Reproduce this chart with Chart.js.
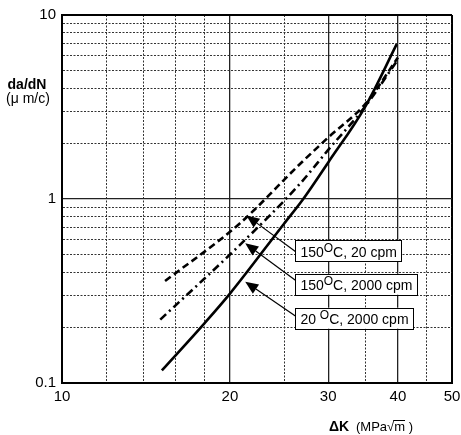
<!DOCTYPE html>
<html>
<head>
<meta charset="utf-8">
<script src="https://cdn.jsdelivr.net/npm/chart.js@4/dist/chart.umd.min.js"></script>
<style>
  html, body { margin: 0; padding: 0; background: #fff; }
  #wrap { width: 461px; height: 435px; }
</style>
</head>
<body>
<div id="wrap"><canvas id="c"></canvas></div>
<script>
const FONT = '"Liberation Sans", Arial, sans-serif';

// da/dN (um/cycle) against ΔK (MPa√m)
const k20c2000 = [15.1, 18, 20, 25, 27, 30, 35, 39.8];
const rate20c2000 = [0.117, 0.211, 0.306, 0.734, 0.99, 1.58, 3.2, 6.94];
const k150c20 = [15.3, 20.8, 26.7, 30, 35, 40];
const rate150c20 = [0.358, 0.734, 1.55, 2.16, 3.3, 5.87];
const k150c2000 = [15.0, 20.8, 26.7, 30, 35, 39.8];
const rate150c2000 = [0.221, 0.56, 1.21, 1.85, 3.2, 5.6];

// axis ticks / grid
const kMajor = [10, 20, 30, 40, 50];
const kMinor = [12, 14, 16, 18, 25, 35, 45];
const rateMajor = [0.1, 1, 10];
const rateMinor = [0.2, 0.3, 0.4, 0.5, 0.6, 0.7, 0.8, 0.9, 2, 3, 4, 5, 6, 7, 8, 9];

// callout labels: arrow tip on curve, label box anchored at left-middle
const calloutText = [['150', '°', 'C, 20 cpm'], ['150', '°', 'C, 2000 cpm'], ['20 ', '°', 'C, 2000 cpm']];
const tipK = [21.4, 21.3, 21.3];
const tipRate = [0.814, 0.574, 0.355];
const tailK = [26.2, 26.2, 26.2];
const tailRate = [0.519, 0.362, 0.231];
const boxRate = [0.524, 0.344, 0.225];

const pts = (xs, ys) => xs.map((x, i) => ({ x, y: ys[i] }));

function gridStyle(major, minor, lo, hi) {
  return {
    drawTicks: false,
    color: c => {
      const v = c.tick && c.tick.value;
      if (v === lo || v === hi) return '#000';
      return minor.includes(v) ? '#333' : '#222';
    },
    lineWidth: c => {
      const v = c.tick && c.tick.value;
      if (v === lo || v === hi) return 2;
      return minor.includes(v) ? 1 : 1.3;
    },
  };
}

const decor = {
  id: 'decor',
  afterDatasetsDraw(chart) {
    const { ctx, scales: { x, y } } = chart;
    ctx.save();
    for (let i = 0; i < calloutText.length; i++) {
      const tx = x.getPixelForValue(tipK[i]), ty = y.getPixelForValue(tipRate[i]);
      const sx = x.getPixelForValue(tailK[i]), sy = y.getPixelForValue(tailRate[i]);
      const ang = Math.atan2(ty - sy, tx - sx);
      const hl = 13, hw = 5.5;
      const bx = tx - hl * Math.cos(ang), by = ty - hl * Math.sin(ang);
      ctx.strokeStyle = '#000'; ctx.lineWidth = 1.2;
      ctx.beginPath(); ctx.moveTo(sx, sy); ctx.lineTo(bx, by); ctx.stroke();
      ctx.fillStyle = '#000';
      ctx.beginPath();
      ctx.moveTo(tx, ty);
      ctx.lineTo(bx + hw * Math.sin(ang), by - hw * Math.cos(ang));
      ctx.lineTo(bx - hw * Math.sin(ang), by + hw * Math.cos(ang));
      ctx.closePath(); ctx.fill();

      // label box
      const [a, sup, b] = calloutText[i];
      const big = '14px ' + FONT, small = '12px ' + FONT;
      ctx.font = big; const wa = ctx.measureText(a).width, wb = ctx.measureText(b).width;
      ctx.font = small; const ws = ctx.measureText('O').width;
      const lx = x.getPixelForValue(tailK[i]), cy = y.getPixelForValue(boxRate[i]);
      const w = wa + ws + wb + 10, h = 21;
      ctx.fillStyle = '#fff'; ctx.fillRect(lx, cy - h / 2, w, h);
      ctx.strokeStyle = '#000'; ctx.lineWidth = 1;
      ctx.strokeRect(Math.round(lx) + 0.5, Math.round(cy - h / 2) + 0.5, Math.round(w), h);
      ctx.fillStyle = '#000'; ctx.textBaseline = 'alphabetic'; ctx.textAlign = 'left';
      ctx.font = big; ctx.fillText(a, lx + 5, cy + 6);
      ctx.font = small; ctx.fillText('O', lx + 5 + wa, cy + 1);
      ctx.font = big; ctx.fillText(b, lx + 5 + wa + ws, cy + 6);
    }
    ctx.restore();
  },
  afterDraw(chart) {
    const { ctx } = chart;
    ctx.save();
    ctx.fillStyle = '#000';
    ctx.textAlign = 'center'; ctx.textBaseline = 'alphabetic';
    ctx.font = 'bold 14px ' + FONT; ctx.fillText('da/dN', 27, 89);
    ctx.font = '14px ' + FONT; ctx.fillText('(\u03BC m/c)', 28, 103);
    // x title
    ctx.textAlign = 'left';
    ctx.font = 'bold 14px ' + FONT; ctx.fillText('\u0394K', 329, 431);
    ctx.font = '13px ' + FONT;
    let px = 356;
    ctx.fillText('(MPa\u221A', px, 431); px += ctx.measureText('(MPa\u221A').width;
    const mw = ctx.measureText('m').width;
    ctx.fillText('m', px, 431);
    ctx.lineWidth = 1; ctx.strokeStyle = '#000';
    ctx.beginPath(); ctx.moveTo(px - 1, 420.5); ctx.lineTo(px + mw, 420.5); ctx.stroke();
    px += mw;
    ctx.fillText(' )', px, 431);
    ctx.restore();
  }
};

new Chart(document.getElementById('c'), {
  type: 'line',
  data: {
    datasets: [
      { label: '20 °C, 2000 cpm', data: pts(k20c2000, rate20c2000), borderColor: '#000', borderWidth: 2.6, pointRadius: 0, cubicInterpolationMode: 'monotone' },
      { label: '150 °C, 20 cpm', data: pts(k150c20, rate150c20), borderColor: '#000', borderWidth: 2.6, borderDash: [7, 4], pointRadius: 0, cubicInterpolationMode: 'monotone' },
      { label: '150 °C, 2000 cpm', data: pts(k150c2000, rate150c2000), borderColor: '#000', borderWidth: 2.6, borderDash: [8, 4, 2, 4], pointRadius: 0, cubicInterpolationMode: 'monotone' },
    ]
  },
  options: {
    responsive: true,
    maintainAspectRatio: false,
    animation: false,
    layout: { padding: { left: 0, right: 0, top: 14, bottom: 0 } },
    plugins: { legend: { display: false }, tooltip: { enabled: false } },
    scales: {
      x: {
        type: 'logarithmic', min: 10, max: 50,
        afterBuildTicks: s => { s.ticks = [...kMajor, ...kMinor].sort((a, b) => a - b).map(v => ({ value: v })); },
        afterFit: s => { s.height = 52; s.paddingRight = 9; },
        ticks: { autoSkip: false, maxRotation: 0, padding: 5, color: '#000', font: { family: FONT, size: 15 },
          callback: v => kMajor.includes(v) ? String(v) : '' },
        grid: gridStyle(kMajor, kMinor, 10, 50),
        border: { color: '#000', width: 2, dash: c => (c.tick && kMinor.includes(c.tick.value)) ? [2, 1.5] : [] },
      },
      y: {
        type: 'logarithmic', min: 0.1, max: 10,
        afterBuildTicks: s => { s.ticks = [...rateMajor, ...rateMinor].sort((a, b) => a - b).map(v => ({ value: v })); },
        afterFit: s => { s.width = 62; },
        ticks: { autoSkip: false, padding: 6, color: '#000', font: { family: FONT, size: 15 },
          callback: v => rateMajor.includes(v) ? String(v) : '' },
        grid: gridStyle(rateMajor, rateMinor, 0.1, 10),
        border: { color: '#000', width: 2, dash: c => (c.tick && rateMinor.includes(c.tick.value)) ? [2, 1.5] : [] },
      }
    }
  },
  plugins: [decor]
});
</script>
</body>
</html>
